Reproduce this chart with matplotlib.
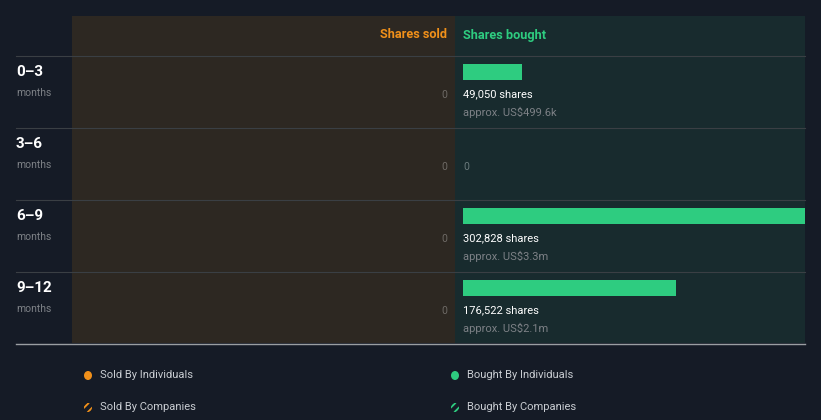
import matplotlib.pyplot as plt
from matplotlib.patches import Rectangle, Ellipse

plt.rcParams['font.family'] = ['Roboto', 'DejaVu Sans']
plt.rcParams['hatch.linewidth'] = 1.4

# data
periods = ['0–3', '3–6', '6–9', '9–12']
sold_shares = [0, 0, 0, 0]
bought_shares = [49050, 0, 302828, 176522]
bought_labels = ['49,050 shares', '0', '302,828 shares', '176,522 shares']
bought_values = ['approx. US$499.6k', '', 'approx. US$3.3m', 'approx. US$2.1m']
legend_labels = ['Sold By Individuals', 'Bought By Individuals',
                 'Sold By Companies', 'Bought By Companies']

bg = '#151b26'
sold_bg = '#2d2822'
bought_bg = '#182b2e'
orange = '#f0901a'
green = '#2ecc80'
grey = '#7d8186'

W, H = 821, 420
fig = plt.figure(figsize=(W / 100, H / 100), dpi=100, facecolor=bg)
ax = fig.add_axes([0, 0, 1, 1])
ax.set_xlim(0, W)
ax.set_ylim(H, 0)
ax.axis('off')

# panels
ax.add_patch(Rectangle((72, 16), 383, 327, color=sold_bg, lw=0))
ax.add_patch(Rectangle((455, 16), 350, 327, color=bought_bg, lw=0))

ax.text(447, 35, 'Shares sold', color=orange, fontsize=9.2, fontweight='bold',
        ha='right', va='center')
ax.text(463, 35, 'Shares bought', color=green, fontsize=9.2, fontweight='bold',
        ha='left', va='center')

row_h = 72
top = 56
for i, p in enumerate(periods):
    y0 = top + i * row_h
    ax.plot([16, 805], [y0, y0], color='#3a3f44', lw=0.8)
    ax.text(16, y0 + 15.5, p, color='white', fontsize=11, fontweight='bold',
            ha='left', va='center')
    ax.text(16, y0 + 37, 'months', color=grey, fontsize=7.5, ha='left', va='center')
    ax.text(447, y0 + 38.5, str(sold_shares[i]), color='#6e6a66', fontsize=7.5,
            ha='right', va='center')
    if bought_shares[i] > 0:
        ax.text(463, y0 + 38.5, bought_labels[i], color='white', fontsize=8,
                ha='left', va='center')
        ax.text(463, y0 + 56.5, bought_values[i], color=grey, fontsize=8,
                ha='left', va='center')
    else:
        ax.text(463, y0 + 38.5, bought_labels[i], color='#6b7a7c', fontsize=7.5,
                ha='left', va='center')
ax.plot([16, 805], [343.5, 343.5], color='#9a9ea2', lw=1)

# bars
bax = fig.add_axes([463 / W, 1 - 344 / H, 342 / W, 288 / H])
bax.set_xlim(0, 283300)
bax.set_ylim(4, 0)
bax.axis('off')
bax.barh([i + 0.222 for i in range(len(periods))], bought_shares,
         height=0.222, color=green, align='center')

# legend
leg_pos = [(88, 375.5), (455, 375.5), (88, 407.5), (455, 407.5)]
for k, (lab, (x, y)) in enumerate(zip(legend_labels, leg_pos)):
    c = orange if k % 2 == 0 else green
    if k < 2:
        ax.add_patch(Ellipse((x, y), 8, 9, color=c, lw=0))
    else:
        ax.add_patch(Ellipse((x, y), 8, 9, facecolor='none',
                             edgecolor=c, hatch='////', lw=0))
    ax.text(x + 12, y, lab, color='#c9cdd2', fontsize=8, ha='left', va='center')

fig.savefig('out.png', dpi=100, facecolor=bg)
